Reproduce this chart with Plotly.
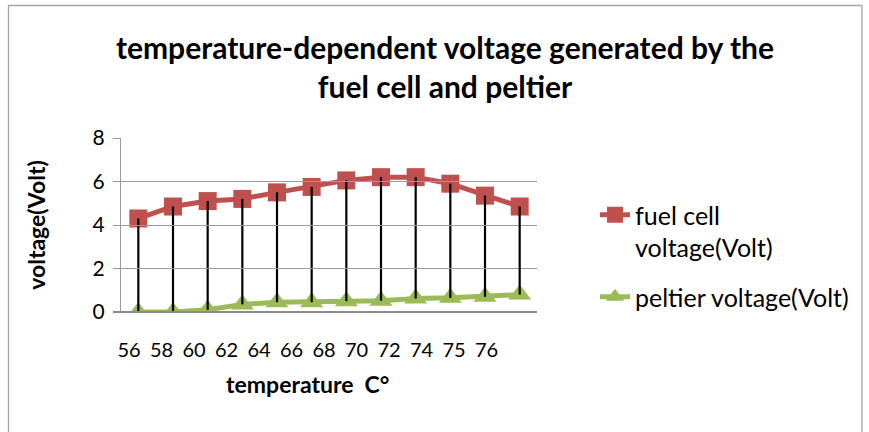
import plotly.graph_objects as go

temps = ["56", "58", "60", "62", "64", "66", "68", "70", "72", "74", "75", "76"]
fuel_cell = [4.3, 4.85, 5.1, 5.2, 5.5, 5.75, 6.05, 6.2, 6.2, 5.9, 5.35, 4.85]
peltier = [0.0, 0.0, 0.1, 0.35, 0.45, 0.45, 0.5, 0.52, 0.62, 0.65, 0.7, 0.8]
y_ticks = [0, 2, 4, 6, 8]

FONT = "Lato, Open Sans, sans-serif"
RED = "#C0504D"
GREEN = "#9BBB59"

W, H = 869, 432
# plot area in page pixels: x 121..537, y 138..312
L, R, T, B = 100, W - 537, 138, H - 312
pw, ph = W - L - R, H - T - B


def px(x):  # page x -> paper
    return (x - L) / pw


def py(y):  # page y -> paper
    return (H - B - y) / ph


# high-low lines from fuel cell down to peltier
hl = [f - p for f, p in zip(fuel_cell, peltier)]

fig = go.Figure()
# carrier for the category label axis (labels sit a bit left, as in the original)
fig.add_trace(go.Scatter(
    x=temps, y=peltier, xaxis="x2", mode="markers", showlegend=False, hoverinfo="skip",
    marker=dict(size=0.1, color="rgba(0,0,0,0)"),
))
fig.add_trace(go.Scatter(
    x=temps, y=fuel_cell, mode="lines+markers", name="fuel cell<br>voltage(Volt)",
    legendgroup="a",
    line=dict(color=RED, width=5),
    marker=dict(symbol="square", size=18, color=RED),
))
fig.add_trace(go.Scatter(
    x=temps, y=peltier, mode="lines+markers", name="peltier voltage(Volt)",
    legendgroup="b",
    line=dict(color=GREEN, width=5),
    marker=dict(symbol="triangle-up", size=20, color=GREEN),
))
fig.add_trace(go.Scatter(
    x=temps, y=fuel_cell, mode="markers", showlegend=False, hoverinfo="skip",
    marker=dict(size=0.1, color="rgba(0,0,0,0)"),
    error_y=dict(type="data", symmetric=False, array=[0] * len(hl), arrayminus=hl,
                 color="black", thickness=2.2, width=0),
))

fig.update_layout(
    width=W, height=H,
    margin=dict(l=L, r=R, t=T, b=B, autoexpand=False),
    paper_bgcolor="white", plot_bgcolor="rgba(0,0,0,0)",
    font=dict(family=FONT, size=20, color="black"),
    title=dict(
        text="<b>temperature-dependent voltage generated by the<br>fuel cell and peltier</b>",
        x=px(445), xref="paper", xanchor="center",
        y=1 - 58.5 / H, yref="container", yanchor="middle",
        font=dict(size=30, family=FONT),
    ),
    xaxis=dict(
        type="category", range=[-0.5, 11.5], domain=[px(121), 1],
        showgrid=False, zeroline=False,
        showline=False, ticks="", showticklabels=False,
    ),
    xaxis2=dict(
        type="category", range=[-0.5, 11.5], domain=[px(112.75), px(502.75)],
        anchor="y", side="bottom",
        showgrid=False, zeroline=False, showline=False, ticks="",
        tickfont=dict(size=20), ticklabelstandoff=24,
        title=dict(text="<b>temperature  C°</b>", font=dict(size=23), standoff=16),
    ),
    yaxis=dict(
        anchor="x",
        range=[0, 8], tickvals=y_ticks, showgrid=True, gridcolor="#9A9A9A", gridwidth=1.3,
        zeroline=True, zerolinecolor="#8C8C8C", zerolinewidth=2,
        showline=True, linecolor="#9A9A9A", linewidth=1.3,
        ticks="outside", ticklen=7, tickcolor="#9A9A9A", tickfont=dict(size=21),
        ticklabelstandoff=4,
        title=dict(text="<b>voltage(Volt)</b>", font=dict(size=23), standoff=40),
    ),
    legend=dict(
        x=px(595), y=py(192), xanchor="left", yanchor="top", valign="top",
        font=dict(size=25), bgcolor="rgba(0,0,0,0)", tracegroupgap=14,
    ),
    shapes=[
        dict(type="rect", xref="paper", yref="paper",
             x0=px(8.5), x1=px(862), y0=py(445), y1=py(5.5),
             line=dict(color="#A6A6A6", width=1.3), fillcolor="rgba(0,0,0,0)", layer="below"),
        dict(type="line", xref="paper", yref="y", x0=px(114), x1=1, y0=0, y1=0,
             line=dict(color="#8C8C8C", width=2)),
    ],
)

fig.write_html(
    "out.html",
    config={"displayModeBar": False},
    post_script="document.body.style.margin='0';document.body.style.overflow='hidden';",
)
